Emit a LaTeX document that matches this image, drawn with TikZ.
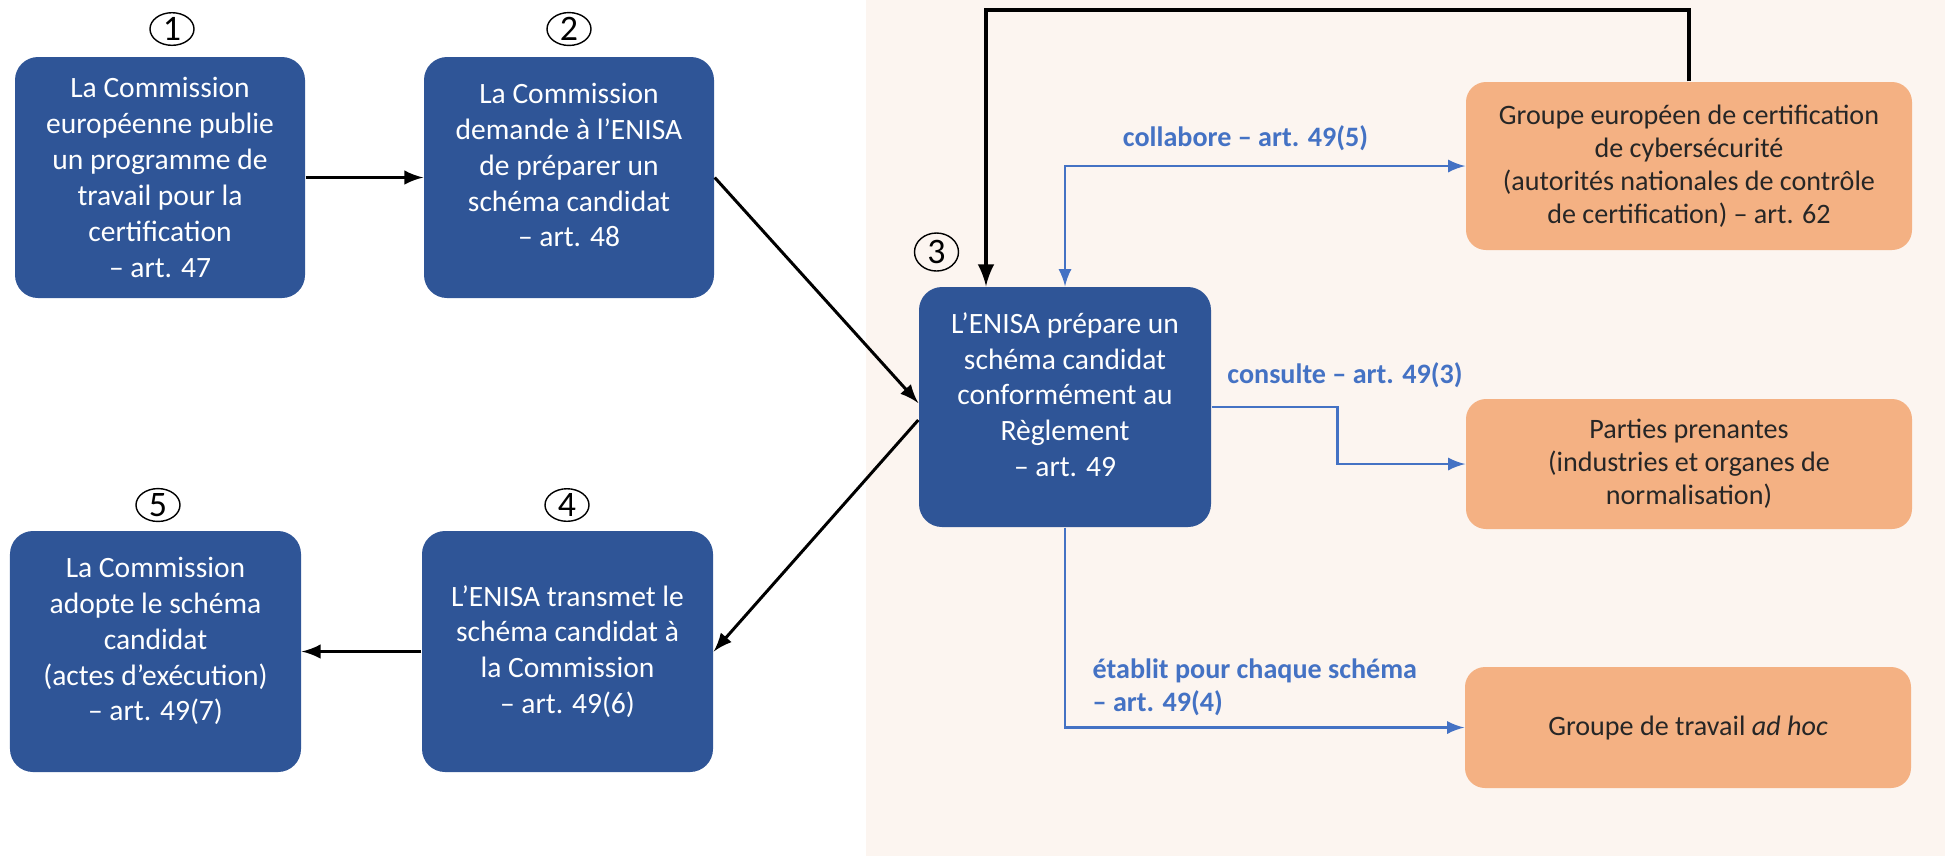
\documentclass[tikz,border=0pt]{standalone}
\usepackage{fontspec}
\setmainfont{Carlito}
\usetikzlibrary{shapes,arrows,positioning,calc}
\usepackage{xcolor}
\definecolor{enisablue}{RGB}{47,85,151}
\definecolor{linkblue}{RGB}{68,114,196}
\definecolor{grouporange}{RGB}{244,177,131}
\definecolor{zonebeige}{RGB}{252,245,240}

\begin{document}
\begin{tikzpicture}[
    stepbox/.style={rectangle, fill=enisablue, rounded corners=0.23cm, text=white, align=center, minimum width=2.9cm, minimum height=2.41cm, inner sep=0pt, font=\fontsize{8.4}{10.2}\selectfont},
    lifted/.style={text depth=0.25cm},
    groupbox/.style={rectangle, fill=grouporange, rounded corners=0.2cm, text=black!85, align=center, minimum width=4.46cm, inner sep=0pt, font=\fontsize{8}{9.4}\selectfont},
    stepnum/.style={ellipse, draw, line width=0.4pt, minimum width=0.44cm, minimum height=0.31cm, inner sep=0pt, font=\fontsize{10.2}{12}\selectfont},
    flow/.style={-latex, line width=0.85pt},
    link/.style={-latex, draw=linkblue, line width=0.7pt},
    linklabel/.style={text=linkblue, inner sep=0pt, font=\bfseries\fontsize{8}{9.4}\selectfont}
]
    \useasboundingbox (0,0) rectangle (19.45,-8.56);
    \fill[zonebeige] (8.66,0) rectangle (19.45,-8.56);

    % etapes de la procedure
    \node[stepbox] (workprog) at (1.60,-1.775) {La Commission\\européenne publie\\un programme de\\travail pour la\\certification\\– art. 47};
    \node[stepbox, lifted] (request) at (5.69,-1.775) {La Commission\\demande à l’ENISA\\de préparer un\\schéma candidat\\– art. 48};
    \node[stepbox, lifted, minimum width=2.92cm, minimum height=2.40cm] (prepare) at (10.65,-4.07) {L’ENISA prépare un\\schéma candidat\\conformément au\\Règlement\\– art. 49};
    \node[stepbox, minimum width=2.91cm] (transmit) at (5.675,-6.515) {L’ENISA transmet le\\schéma candidat à\\la Commission\\– art. 49(6)};
    \node[stepbox, lifted, minimum width=2.91cm] (adopt) at (1.555,-6.515) {La Commission\\adopte le schéma\\candidat\\(actes d’exécution)\\– art. 49(7)};

    \node[stepnum] (num1) at (1.72,-0.29) {1};
    \node[stepnum] (num2) at (5.69,-0.29) {2};
    \node[stepnum, minimum height=0.38cm] (num3) at (9.365,-2.52) {3};
    \node[stepnum] (num4) at (5.67,-5.05) {4};
    \node[stepnum] (num5) at (1.58,-5.05) {5};

    % acteurs consultes
    \node[groupbox, minimum height=1.68cm] (ecccg) at (16.89,-1.66) {Groupe européen de certification\\de cybersécurité\\(autorités nationales de contrôle\\de certification) – art. 62};
    \node[groupbox, minimum height=1.30cm] (stake) at (16.89,-4.64) {Parties prenantes\\(industries et organes de\\normalisation)};
    \node[groupbox, minimum height=1.21cm] (adhoc) at (16.88,-7.275) {Groupe de travail \textit{ad hoc}};

    \draw[flow] (workprog) -- (request);
    \draw[flow] (request.east) -- ([yshift=0.04cm]prepare.west);
    \draw[flow] ([yshift=-0.13cm]prepare.west) -- (transmit.east);
    \draw[flow] (transmit) -- (adopt);
    \draw[flow, line width=1.15pt] (ecccg.north) -- ++(0,0.71) -| ([xshift=-0.79cm]prepare.north);

    \draw[link, latex-latex] (prepare.north) |- (ecccg.west);
    \draw[link] (prepare.east) -- ++(1.26,0) |- (stake.west);
    \draw[link] (prepare.south) |- (adhoc.west);

    \node[linklabel] (collab) at (12.455,-1.38) {collabore – art. 49(5)};
    \node[linklabel] (consult) at (13.45,-3.75) {consulte – art. 49(3)};
    \node[linklabel, align=left, anchor=west] (setup) at (10.92,-6.87) {établit pour chaque schéma\\– art. 49(4)};
\end{tikzpicture}
\end{document}
